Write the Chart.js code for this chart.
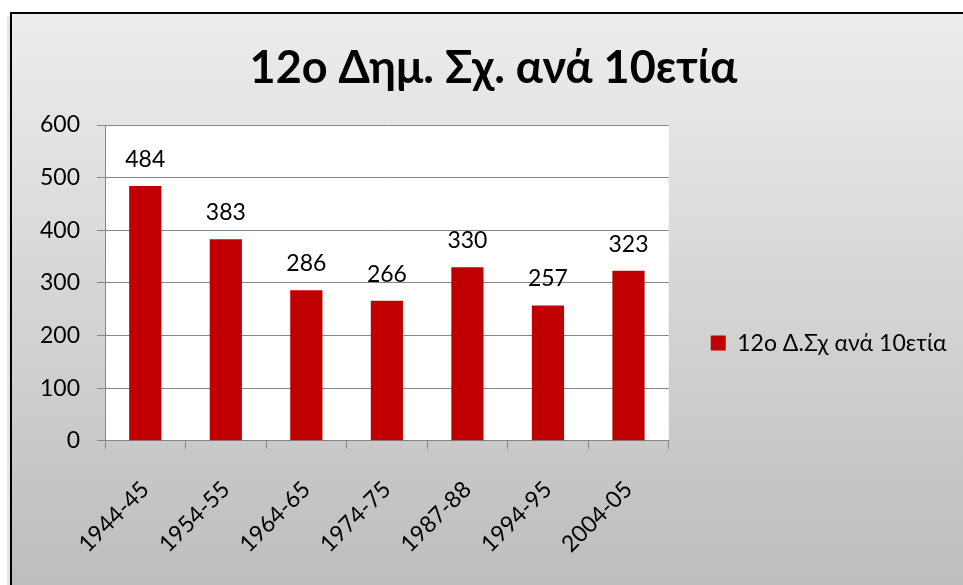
<!DOCTYPE html>
<html>
<head>
<meta charset="utf-8">
<script src="https://cdn.jsdelivr.net/npm/chart.js@4/dist/chart.umd.min.js"></script>
<style>
  html, body { margin: 0; padding: 0; background: #ffffff; }
  #wrap { width: 963px; height: 585px; position: relative; }
</style>
</head>
<body>
<div id="wrap"><canvas id="chart" width="963" height="585"></canvas></div>
<script>
// data
const periods = ['1944-45', '1954-55', '1964-65', '1974-75', '1987-88', '1994-95', '2004-05'];
const students = [484, 383, 286, 266, 330, 257, 323];
const seriesName = '12ο Δ.Σχ ανά 10ετία';
const chartTitle = '12ο Δημ. Σχ. ανά 10ετία';

const FONT = "Lato, 'Noto Sans', sans-serif";
const barRed = '#c00000';
const gridGray = '#868686';

// grey gradient frame behind everything
const framePlugin = {
    id: 'frame',
    beforeDraw(chart) {
        const ctx = chart.ctx;
        ctx.save();
        // soft shadow on the left of the frame
        ctx.fillStyle = '#e4e4e4';
        ctx.fillRect(7, 16, 3, 600);
        const grad = ctx.createLinearGradient(0, 13, 0, 600);
        grad.addColorStop(0, '#ededed');
        grad.addColorStop(1, '#bcbcbc');
        ctx.fillStyle = grad;
        ctx.fillRect(11, 12, 980, 600);
        ctx.strokeStyle = '#000000';
        ctx.lineWidth = 2;
        ctx.beginPath();
        ctx.moveTo(11, 620);
        ctx.lineTo(11, 13);
        ctx.lineTo(990, 13);
        ctx.stroke();
        ctx.restore();
    }
};

// nudge legend away from the plot and centre the title over the whole frame
const nudgeBoxes = {
    id: 'nudgeBoxes',
    afterLayout(chart) {
        chart.legend.left += 32;
        chart.legend.right += 70;
        chart.titleBlock.left += 40;
        chart.titleBlock.right += 40;
    }
};

// white plot area
const plotBg = {
    id: 'plotBg',
    beforeDraw(chart) {
        const a = chart.chartArea;
        chart.ctx.save();
        chart.ctx.fillStyle = '#ffffff';
        chart.ctx.fillRect(a.left, a.top, a.right - a.left, a.bottom - a.top);
        chart.ctx.restore();
    }
};

// value labels above bars
const valueLabels = {
    id: 'valueLabels',
    afterDatasetsDraw(chart) {
        const ctx = chart.ctx;
        const meta = chart.getDatasetMeta(0);
        ctx.save();
        ctx.font = '23px ' + FONT;
        ctx.fillStyle = '#000000';
        ctx.textAlign = 'center';
        ctx.textBaseline = 'bottom';
        meta.data.forEach((bar, i) => {
            ctx.fillText(String(students[i]), bar.x, bar.y - 15);
        });
        ctx.restore();
    }
};

const ctx = document.getElementById('chart').getContext('2d');
new Chart(ctx, {
    type: 'bar',
    data: {
        labels: periods,
        datasets: [{
            label: seriesName,
            data: students,
            backgroundColor: barRed,
            borderWidth: 0,
            barPercentage: 0.4,
            categoryPercentage: 1.0
        }]
    },
    options: {
        responsive: false,
        animation: false,
        layout: {
            padding: { left: 23, right: 79, top: 0, bottom: 0 }
        },
        plugins: {
            title: {
                display: true,
                text: chartTitle,
                color: '#000000',
                font: { family: FONT, size: 45, weight: 'bold' },
                padding: { top: 41, bottom: 30 }
            },
            legend: {
                position: 'right',
                title: {
                    display: true,
                    text: ' ',
                    font: { size: 1 },
                    padding: { top: 100, bottom: 0 }
                },
                labels: {
                    color: '#000000',
                    font: { family: FONT, size: 23 },
                    boxWidth: 15,
                    boxHeight: 15,
                    padding: 10
                }
            },
            tooltip: { enabled: false }
        },
        scales: {
            x: {
                grid: {
                    drawOnChartArea: false,
                    offset: true,
                    tickLength: 8,
                    color: gridGray
                },
                border: { color: gridGray, width: 1 },
                ticks: {
                    color: '#000000',
                    font: { family: FONT, size: 23 },
                    maxRotation: 45,
                    minRotation: 45,
                    padding: 27,
                    autoSkip: false
                }
            },
            y: {
                min: 0,
                max: 600,
                grid: {
                    color: gridGray,
                    tickLength: 8
                },
                border: { color: gridGray, width: 1 },
                ticks: {
                    stepSize: 100,
                    color: '#000000',
                    font: { family: FONT, size: 23 },
                    padding: 17
                }
            }
        }
    },
    plugins: [framePlugin, nudgeBoxes, plotBg, valueLabels]
});
</script>
</body>
</html>
